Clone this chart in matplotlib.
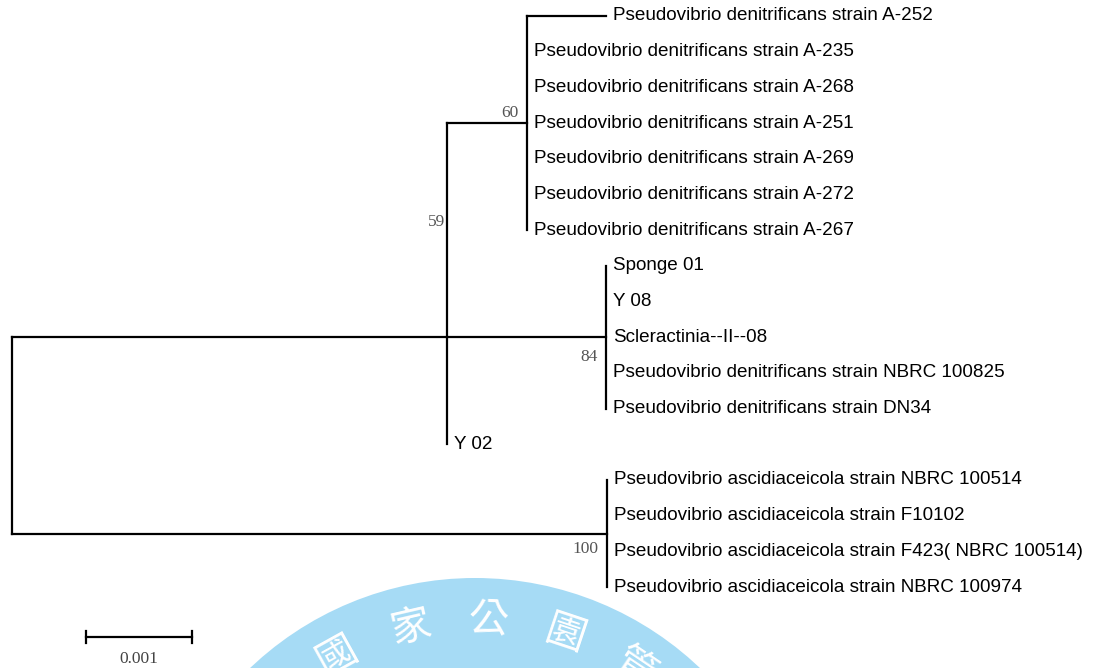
"""
Phylogenetic tree of Pseudovibrio 16S sequences, redrawn with matplotlib.
"""

import numpy as np
import matplotlib
matplotlib.use("Agg")
import matplotlib.pyplot as plt
from matplotlib.patches import Circle

# leaves of each clade, top to bottom, with their terminal branch lengths
clade60_leaves = [
    "Pseudovibrio denitrificans strain A-252",
    "Pseudovibrio denitrificans strain A-235",
    "Pseudovibrio denitrificans strain A-268",
    "Pseudovibrio denitrificans strain A-251",
    "Pseudovibrio denitrificans strain A-269",
    "Pseudovibrio denitrificans strain A-272",
    "Pseudovibrio denitrificans strain A-267",
]
clade60_lengths = [0.000745, 0, 0, 0, 0, 0, 0]

clade84_leaves = [
    "Sponge 01",
    "Y 08",
    "Scleractinia--II--08",
    "Pseudovibrio denitrificans strain NBRC 100825",
    "Pseudovibrio denitrificans strain DN34",
]
clade84_lengths = [0, 0, 0, 0, 0]

single_leaf = "Y 02"
single_length = 0.0

clade100_leaves = [
    "Pseudovibrio ascidiaceicola strain NBRC 100514",
    "Pseudovibrio ascidiaceicola strain F10102",
    "Pseudovibrio ascidiaceicola strain F423( NBRC 100514)",
    "Pseudovibrio ascidiaceicola strain NBRC 100974",
]
clade100_lengths = [0, 0, 0, 0]

# internal branch lengths (substitutions per site)
len_root_ingroup = 0.004104
len_ingroup_clade60 = 0.000755
len_ingroup_clade84 = 0.0015
len_root_clade100 = 0.005613

# bootstrap values
boot_ingroup = 59
boot_clade60 = 60
boot_clade84 = 84
boot_clade100 = 100

scale_bar = 0.001

LW = 1.6
LABEL_FONT = "Liberation Sans"
LABEL_SIZE = 13.6
NUM_FONT = "Liberation Serif"


def node_y(child_ys):
    # middle child for odd counts, mean of the two middle ones otherwise
    n = len(child_ys)
    if n % 2 == 1:
        return child_ys[n // 2]
    return (child_ys[n // 2 - 1] + child_ys[n // 2]) / 2


def draw_clade(ax, x0, leaves, lengths, first_row):
    rows = list(range(first_row, first_row + len(leaves)))
    for name, bl, r in zip(leaves, lengths, rows):
        if bl > 0:
            ax.plot([x0, x0 + bl], [r, r], color="black", lw=LW)
        ax.annotate(name, (x0 + bl, r), xytext=(5.3, 0), textcoords="offset points",
                    ha="left", va="center", fontsize=LABEL_SIZE, family=LABEL_FONT)
    ax.plot([x0, x0], [rows[0], rows[-1]], color="black", lw=LW)
    return node_y(rows)


def boot(ax, text, x, y, dx, dy):
    ax.annotate(str(text), (x, y), xytext=(dx, dy), textcoords="offset points",
                ha="right", va="center", fontsize=12.5, family=NUM_FONT, color="#555555")


def draw_watermark(fig):
    bg = fig.add_axes([0, 0, 1, 1], zorder=0)
    bg.set_xlim(0, 1101)
    bg.set_ylim(668, 0)
    bg.axis("off")
    cx, cy, R = 475, 904, 326
    bg.add_patch(Circle((cx, cy), R, color="#a6dbf5", lw=0))
    chars = ["國", "家", "公", "園", "管"]
    angles = [-29, -13, 2.6, 18.5, 34]
    for ch, a in zip(chars, angles):
        t = np.radians(a)
        bg.text(cx + 284 * np.sin(t), cy - 284 * np.cos(t), ch, rotation=-a,
                ha="center", va="center", fontsize=29, color="white",
                family=["Noto Sans CJK TC", "DejaVu Sans"],
                rotation_mode="anchor")


def main():
    fig = plt.figure(figsize=(11.01, 6.68), dpi=100)
    draw_watermark(fig)

    ax = fig.add_axes([0, 0, 1, 1], zorder=1)
    ax.patch.set_alpha(0)
    px = 106000.0        # pixels per unit branch length
    row = 35.69          # pixels per leaf row
    ax.set_xlim(-12 / px, 1089 / px)
    ax.set_ylim((668 - 16) / row, -16 / row)
    ax.axis("off")

    x_root = 0.0
    x_in = x_root + len_root_ingroup

    # ingroup clades
    y60 = draw_clade(ax, x_in + len_ingroup_clade60, clade60_leaves, clade60_lengths, 0)
    y84 = draw_clade(ax, x_in + len_ingroup_clade84, clade84_leaves, clade84_lengths,
                     len(clade60_leaves))
    r_single = len(clade60_leaves) + len(clade84_leaves)
    ax.annotate(single_leaf, (x_in + single_length, r_single), xytext=(5.3, 0),
                textcoords="offset points", ha="left", va="center",
                fontsize=LABEL_SIZE, family=LABEL_FONT)

    ax.plot([x_in, x_in + len_ingroup_clade60], [y60, y60], color="black", lw=LW)
    ax.plot([x_in, x_in + len_ingroup_clade84], [y84, y84], color="black", lw=LW)
    ax.plot([x_in, x_in], [y60, r_single], color="black", lw=LW)
    y_in = node_y([y60, y84, r_single])

    # outgroup clade
    x100 = x_root + len_root_clade100
    y100 = draw_clade(ax, x100, clade100_leaves, clade100_lengths, r_single + 1)

    ax.plot([x_root, x_in], [y_in, y_in], color="black", lw=LW)
    ax.plot([x_root, x100], [y100, y100], color="black", lw=LW)
    ax.plot([x_root, x_root], [y_in, y100], color="black", lw=LW)

    # bootstrap support
    boot(ax, boot_clade60, x_in + len_ingroup_clade60, y60, -6, 7)
    boot(ax, boot_ingroup, x_in, y_in, -1.5, 83)
    boot(ax, boot_clade84, x_in + len_ingroup_clade84, y84, -6, -14.5)
    boot(ax, boot_clade100, x100, y100, -6, -11)

    # scale bar
    sx0 = (86 - 12) / px
    sy = (637 - 16) / row
    ax.plot([sx0, sx0 + scale_bar], [sy, sy], color="black", lw=LW)
    for sx in (sx0, sx0 + scale_bar):
        ax.plot([sx, sx], [sy - 0.17, sy + 0.17], color="black", lw=LW)
    ax.annotate(f"{scale_bar:g}", (sx0 + scale_bar / 2, sy), xytext=(0, -16),
                textcoords="offset points", ha="center", va="center",
                fontsize=12.5, family=NUM_FONT, color="#444444")

    fig.savefig("out.png", dpi=100)


if __name__ == "__main__":
    main()
